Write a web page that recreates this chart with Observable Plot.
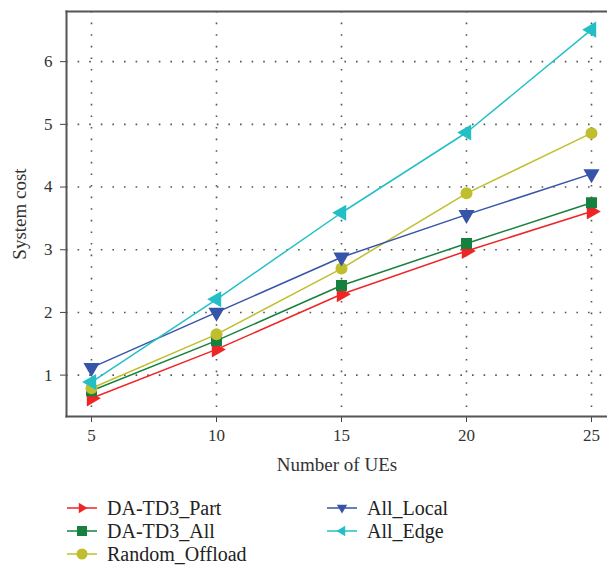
<!DOCTYPE html>
<html><head><meta charset="utf-8">
<script src="https://cdn.jsdelivr.net/npm/d3@7"></script>
<script src="https://cdn.jsdelivr.net/npm/@observablehq/plot@0.6"></script>
<style>
body{margin:0;background:#fff;font-family:"Liberation Serif","DejaVu Serif",serif;}
#wrap{position:relative;width:607px;height:571px;}
.lg{position:absolute;display:flex;align-items:center;font-size:20px;color:#222;height:22px;}
.lg svg{margin-right:10px;}
</style></head>
<body><div id="wrap"><div id="chart"></div><div id="legend"></div></div>
<script>
const ues = [5, 10, 15, 20, 25];
const seriesNames = ["DA-TD3_Part", "DA-TD3_All", "Random_Offload", "All_Local", "All_Edge"];
const partCost   = [0.63, 1.41, 2.29, 2.98, 3.61];
const allCost    = [0.75, 1.55, 2.43, 3.10, 3.75];
const randomCost = [0.79, 1.65, 2.70, 3.90, 4.86];
const localCost  = [1.12, 2.00, 2.88, 3.56, 4.21];
const edgeCost   = [0.89, 2.21, 3.59, 4.87, 6.51];
const xTicks = [5, 10, 15, 20, 25];
const yTicks = [1, 2, 3, 4, 5, 6];

const colors = ["#ef2525", "#16803e", "#bfbf2e", "#3654a8", "#22c0c6"];
const symbols = ["triangle", "square", "circle", "triangle", "triangle"];
const rotations = [90, 0, 0, 180, -90];
const radii = [6, 6.2, 6, 6, 6];

const allSeries = [partCost, allCost, randomCost, localCost, edgeCost];
const data = [];
seriesNames.forEach((s, i) => ues.forEach((u, j) => data.push({series: s, idx: i, x: u, y: allSeries[i][j]})));

const font = `"Liberation Serif","DejaVu Serif",serif`;
const marks = [
  Plot.gridX(xTicks, {stroke: "#555", strokeOpacity: 1, strokeWidth: 1.6, strokeDasharray: "1.6,10"}),
  Plot.gridY(yTicks, {stroke: "#555", strokeOpacity: 1, strokeWidth: 1.6, strokeDasharray: "1.6,10"}),
  Plot.axisX(xTicks, {tickSize: 6, tickPadding: 6, fontSize: 17, tickFormat: d => String(d), label: "Number of UEs", labelAnchor: "center", labelArrow: "none", labelOffset: 54, stroke: "#444"}),
  Plot.axisY(yTicks, {tickSize: 6, tickPadding: 8, fontSize: 17, tickFormat: d => String(d), label: "System cost", labelAnchor: "center", labelArrow: "none", labelOffset: 54, stroke: "#444"}),
];
seriesNames.forEach((s, i) => {
  const d = data.filter(e => e.idx === i);
  marks.push(Plot.line(d, {x: "x", y: "y", stroke: colors[i], strokeWidth: 1.5}));
});
seriesNames.forEach((s, i) => {
  const d = data.filter(e => e.idx === i);
  marks.push(Plot.dot(d, {x: "x", y: "y", fill: colors[i], symbol: () => symbols[i], rotate: rotations[i], r: radii[i], stroke: "none"}));
});
marks.push(Plot.frame({anchor: "left", stroke: "#555", strokeWidth: 2}));
marks.push(Plot.frame({anchor: "top", stroke: "#555", strokeWidth: 2}));
marks.push(Plot.frame({anchor: "bottom", stroke: "#555", strokeWidth: 2}));

const chart = Plot.plot({
  width: 607, height: 480,
  marginLeft: 66, marginRight: 0, marginTop: 11, marginBottom: 64,
  style: {fontFamily: font, fontSize: "17px", color: "#333", background: "white"},
  x: {domain: [4, 25.64]},
  y: {domain: [0.34, 6.8]},
  marks
});
chart.querySelectorAll("g[aria-label='y-axis label'] text, g[aria-label='x-axis label'] text").forEach(t => t.style.fontSize = "19px");
document.getElementById("chart").appendChild(chart);

// legend
const legend = document.getElementById("legend");
const pos = [[67, 497], [67, 520], [67, 543], [327, 497], [327, 520]];
const symPath = {
  triangle: "M0,-5.5L5.2,3.2L-5.2,3.2Z",
  square: "M-5,-5H5V5H-5Z"
};
seriesNames.forEach((s, i) => {
  const div = document.createElement("div");
  div.className = "lg";
  div.style.left = pos[i][0] + "px";
  div.style.top = pos[i][1] + "px";
  let m;
  if (symbols[i] === "circle") m = `<circle cx="15" cy="11" r="5.5" fill="${colors[i]}"/>`;
  else m = `<path transform="translate(15,11) rotate(${rotations[i]})" d="${symPath[symbols[i]]}" fill="${colors[i]}"/>`;
  div.innerHTML = `<svg width="30" height="22"><line x1="0" x2="30" y1="11" y2="11" stroke="${colors[i]}" stroke-width="1.5"/>${m}</svg><span>${s}</span>`;
  legend.appendChild(div);
});
</script></body></html>
